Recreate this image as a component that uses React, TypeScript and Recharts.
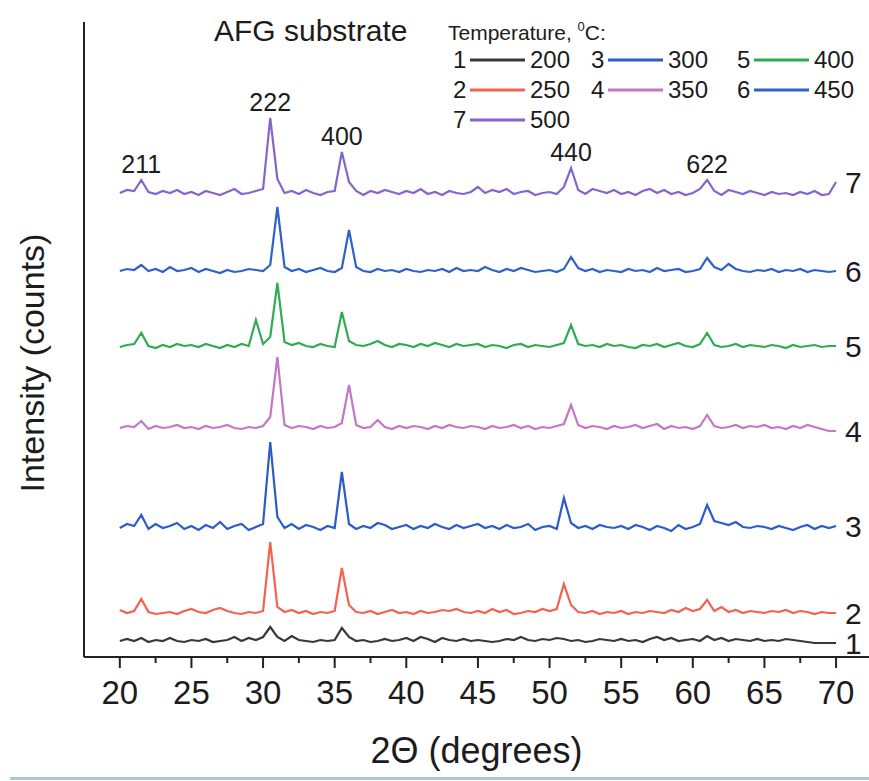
import { LineChart, Line, XAxis, YAxis, ReferenceDot, Legend, Label } from "recharts";

// 2-theta grid (degrees)
const angles = [
  20, 20.5, 21, 21.5, 22, 22.5, 23, 23.5, 24, 24.5,
  25, 25.5, 26, 26.5, 27, 27.5, 28, 28.5, 29, 29.5,
  30, 30.5, 31, 31.5, 32, 32.5, 33, 33.5, 34, 34.5,
  35, 35.5, 36, 36.5, 37, 37.5, 38, 38.5, 39, 39.5,
  40, 40.5, 41, 41.5, 42, 42.5, 43, 43.5, 44, 44.5,
  45, 45.5, 46, 46.5, 47, 47.5, 48, 48.5, 49, 49.5,
  50, 50.5, 51, 51.5, 52, 52.5, 53, 53.5, 54, 54.5,
  55, 55.5, 56, 56.5, 57, 57.5, 58, 58.5, 59, 59.5,
  60, 60.5, 61, 61.5, 62, 62.5, 63, 63.5, 64, 64.5,
  65, 65.5, 66, 66.5, 67, 67.5, 68, 68.5, 69, 69.5,
  70,
];

// intensities (counts, curves already offset)
const s200 = [
  16, 18, 16, 19, 15, 17, 16, 19, 16, 15,
  17, 16, 18, 15, 16, 17, 20, 16, 19, 17,
  20, 30, 20, 16, 21, 17, 16, 15, 17, 16,
  17, 29, 20, 16, 17, 15, 16, 18, 16, 17,
  19, 16, 20, 18, 15, 19, 17, 16, 18, 16,
  17, 16, 15, 16, 18, 17, 20, 17, 16, 18,
  17, 19, 18, 16, 17, 15, 16, 18, 17, 16,
  18, 16, 17, 15, 18, 20, 17, 19, 16, 17,
  18, 16, 21, 17, 19, 16, 18, 17, 16, 18,
  16, 17, 16, 18, 17, 16, 15, 14, 14, 14,
  14,
];
const s250 = [
  47, 44, 46, 58, 45, 43, 44, 45, 43, 46,
  48, 45, 44, 47, 49, 46, 44, 43, 45, 44,
  46, 115, 50, 45, 47, 44, 46, 43, 45, 44,
  46, 89, 52, 45, 44, 46, 43, 45, 47, 44,
  45, 43, 46, 44, 45, 47, 46, 48, 45, 44,
  46, 44, 48, 45, 47, 43, 44, 46, 45, 48,
  46, 48, 73, 52, 45, 44, 46, 43, 45, 44,
  46, 43, 45, 44, 46, 45, 44, 47, 45, 49,
  46, 48, 57, 46, 50, 45, 47, 44, 46, 45,
  44, 46, 45, 47, 44, 46, 45, 43, 45, 44,
  44,
];
const s300 = [
  129, 133, 131, 142, 128, 133, 129, 131, 134, 128,
  131, 127, 132, 129, 135, 128, 131, 133, 127, 130,
  133, 215, 140, 129, 133, 128, 132, 130, 127, 131,
  129, 185, 133, 128, 131, 129, 134, 132, 128, 130,
  132, 128, 131, 129, 133, 130, 128, 132, 129, 131,
  133, 129, 131, 128, 132, 129, 130, 133, 127, 130,
  131, 128, 159, 134, 129, 131, 128, 132, 130, 129,
  131, 128, 132, 130, 127, 131, 129, 126, 132, 128,
  130, 133, 152, 136, 134, 132, 135, 130, 129, 131,
  130, 128, 131, 129, 127, 130, 132, 128, 131, 129,
  131,
];
const s350 = [
  229, 231, 230, 236, 228, 231, 229, 230, 232, 229,
  230, 228, 231, 229, 230, 232, 229, 228, 230, 229,
  231, 240, 300, 232, 229, 231, 230, 228, 231, 229,
  230, 234, 272, 232, 229, 230, 237, 230, 228, 231,
  229, 231, 230, 228, 231, 229, 232, 230, 229, 231,
  230, 228, 231, 229, 230, 232, 229, 231, 228, 230,
  229, 231, 233, 252, 232, 229, 231, 230, 228, 231,
  229, 230, 232, 229, 231, 233, 228, 231, 229, 230,
  228, 231, 242, 231, 229, 230, 232, 229, 231, 230,
  232, 229, 230, 228, 231, 229, 232, 230, 228, 226,
  226,
];
const s400 = [
  310, 312, 313, 324, 311, 309, 312, 310, 313, 311,
  312, 310, 313, 311, 309, 312, 310, 313, 311, 337,
  313, 320, 374, 315, 312, 314, 311, 310, 313, 311,
  310, 345, 316, 312, 311, 313, 316, 312, 310, 313,
  312, 310, 313, 311, 314, 312, 310, 313, 311, 312,
  313, 310, 312, 311, 309, 312, 313, 310, 312, 311,
  310, 312, 314, 332, 313, 311, 312, 310, 313, 311,
  312, 310, 309, 312, 311, 313, 310, 312, 314, 311,
  310, 313, 324, 312, 310, 311, 313, 310, 312, 311,
  310, 312, 311, 309, 312, 310, 311, 312, 310, 311,
  311,
];
const s450 = [
  386, 388, 387, 392, 386, 388, 385, 390, 386, 387,
  389, 385, 388, 386, 384, 387, 385, 386, 388, 387,
  386, 392, 450, 390, 386, 388, 385, 387, 389, 386,
  385, 389, 427, 390, 386, 385, 388, 386, 387, 385,
  388, 386, 385, 387, 386, 388, 385, 389, 386, 387,
  386, 390, 387, 385, 388, 386, 389, 387, 385, 386,
  387, 385, 388, 400, 389, 386, 388, 385, 387, 386,
  385, 388, 386, 387, 385, 389, 386, 387, 388, 385,
  386, 388, 399, 390, 387, 393, 388, 386, 385, 387,
  386, 388, 385, 387, 386, 388, 385, 387, 386, 385,
  386,
];
const s500 = [
  464, 467, 466, 477, 465, 463, 466, 464, 467, 463,
  465, 462, 466, 464, 462, 465, 468, 463, 464, 466,
  468, 539, 478, 464, 466, 463, 467, 464, 462, 465,
  466, 505, 475, 466, 462, 466, 464, 467, 465, 463,
  466, 464, 468, 463, 465, 462, 466, 464, 463, 465,
  470, 464, 467, 465, 468, 463, 465, 466, 462, 464,
  465, 463, 470, 489, 467, 463, 468, 466, 464, 467,
  463, 465, 462, 466, 468, 464, 467, 463, 465, 462,
  464, 468, 477, 466, 462, 467, 465, 463, 466, 464,
  462, 465, 463, 464, 462, 465, 463, 466, 462, 463,
  475,
];

const curveNumbers = ["1", "2", "3", "4", "5", "6", "7"];
const temperatures = ["200", "250", "300", "350", "400", "450", "500"];
const curves = [s200, s250, s300, s350, s400, s450, s500];

const peakNames = ["211", "222", "400", "440", "622"];
const peakAngles = [21.5, 30.5, 35.5, 51.5, 61];

const angleTicks = [20, 22.5, 25, 27.5, 30, 32.5, 35, 37.5, 40, 42.5, 45, 47.5, 50, 52.5, 55, 57.5, 60, 62.5, 65, 67.5, 70];

const COLORS = ["#383838", "#f2624f", "#2c5cc6", "#c477c6", "#2fac52", "#2f62c8", "#8665c8"];
const FONT = "'Liberation Sans', Arial, sans-serif";
const INK = "#1c1c1c";

const rows = angles.map((a, i) => {
  const r: Record<string, number> = { angle: a };
  curves.forEach((c, k) => (r[`t${temperatures[k]}`] = c[i]));
  return r;
});

function AngleTick({ x, y, payload }: any) {
  const major = payload.value % 5 === 0;
  return (
    <g>
      <line x1={x} x2={x} y1={y} y2={y + (major ? 11 : 6)} stroke="#222" strokeWidth={2} />
      {major && (
        <text x={x} y={y + 47} textAnchor="middle" fontSize={33} fill={INK} fontFamily={FONT}>
          {payload.value}
        </text>
      )}
    </g>
  );
}

function IntensityLabel() {
  return (
    <text
      x={44}
      y={363}
      transform="rotate(-90 44 363)"
      textAnchor="middle"
      fontSize={34}
      fill={INK}
      fontFamily={FONT}
    >
      Intensity (counts)
    </text>
  );
}

function TempLegend({ payload }: any) {
  const colX = [453, 591, 737];
  const rowY = [60, 90, 120];
  return (
    <svg width={869} height={140} style={{ display: "block" }}>
      <text x={214} y={41} fontSize={30} fill={INK} fontFamily={FONT}>
        AFG substrate
      </text>
      <text x={448} y={40} fontSize={21} fill={INK} fontFamily={FONT}>
        Temperature,{" "}
        <tspan fontSize={13} dy={-9}>0</tspan>
        <tspan dy={9}>C:</tspan>
      </text>
      {(payload || []).map((p: any, i: number) => {
        const cx = colX[i < 6 ? Math.floor(i / 2) : 0];
        const cy = rowY[i < 6 ? i % 2 : 2];
        return (
          <g key={i} fontFamily={FONT} fontSize={24} fill={INK}>
            <text x={cx} y={cy + 8}>{curveNumbers[i]}</text>
            <line x1={cx + 17} x2={cx + 72} y1={cy} y2={cy} stroke={p.color} strokeWidth={3} />
            <text x={cx + 77} y={cy + 8}>{p.value}</text>
          </g>
        );
      })}
    </svg>
  );
}

export default function App() {
  return (
    <div style={{ position: "absolute", left: 0, top: 0, width: 869, height: 781, background: "#fff" }}>
      <LineChart
        width={869}
        height={781}
        data={rows}
        margin={{ top: 22, right: 0, bottom: 0, left: 74 }}
        style={{ fontFamily: FONT }}
      >
        <XAxis
          dataKey="angle"
          type="number"
          domain={[17.5, 72.3]}
          ticks={angleTicks}
          interval={0}
          allowDataOverflow
          height={124}
          tickSize={0}
          tickMargin={0}
          tickLine={false}
          tick={<AngleTick />}
          axisLine={{ stroke: "#222", strokeWidth: 2 }}
          label={{ value: "2Θ (degrees)", position: "insideBottom", offset: 18, fontSize: 36, fill: INK }}
        />
        <YAxis
          type="number"
          domain={[0, 635]}
          width={10}
          tick={false}
          tickLine={false}
          axisLine={{ stroke: "#222", strokeWidth: 2 }}
        >
          <Label content={<IntensityLabel />} />
        </YAxis>
        <Legend
          layout="horizontal"
          verticalAlign="middle"
          align="center"
          content={<TempLegend />}
          wrapperStyle={{ position: "absolute", left: 0, top: 0, width: 869, height: 140 }}
        />
        {temperatures.map((t, k) => (
          <Line
            key={t}
            dataKey={`t${t}`}
            name={t}
            stroke={COLORS[k]}
            strokeWidth={2.2}
            dot={false}
            activeDot={false}
            type="linear"
            isAnimationActive={false}
          />
        ))}
        {curves.map((c, k) => (
          <ReferenceDot
            key={`n${k}`}
            x={angles[angles.length - 1]}
            y={c[c.length - 1]}
            r={0}
            fill="none"
            stroke="none"
            ifOverflow="visible"
            label={{ value: curveNumbers[k], position: "right", offset: 9, fontSize: 30, fill: INK }}
          />
        ))}
        {peakNames.map((p, i) => (
          <ReferenceDot
            key={p}
            x={peakAngles[i]}
            y={s500[angles.indexOf(peakAngles[i])]}
            r={0}
            fill="none"
            stroke="none"
            ifOverflow="visible"
            label={{ value: p, position: "top", offset: 7, fontSize: 25, fill: INK }}
          />
        ))}
      </LineChart>
      <div style={{ position: "absolute", left: 10, top: 777, width: 859, height: 3, background: "#a9c9d9" }} />
    </div>
  );
}
